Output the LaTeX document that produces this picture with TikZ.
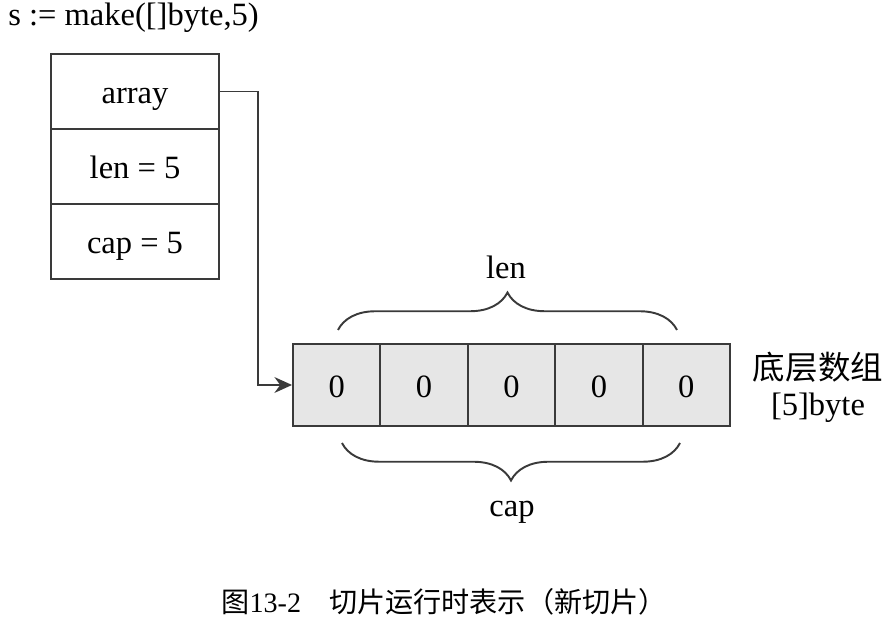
\documentclass[tikz,border=0pt]{standalone}
\usepackage{fontspec}
\setmainfont{Liberation Serif}
\newfontfamily\cjk{Noto Sans CJK SC}
\usetikzlibrary{arrows.meta,decorations.pathreplacing}
\definecolor{linegray}{HTML}{3A3A3A}
\definecolor{cellgray}{HTML}{E6E6E6}
\tikzset{field/.style={draw=linegray, line width=1.1pt, minimum width=3.36cm, minimum height=1.5cm, inner sep=0pt, text height=17pt, text depth=3pt, font=\fontsize{18.5}{20}\selectfont},
  cell/.style={draw=linegray, fill=cellgray, line width=1.1pt, minimum width=1.748cm, minimum height=1.64cm, inner sep=0pt, text height=17pt, text depth=3pt, font=\fontsize{18.5}{20}\selectfont},
  txt/.style={draw=none, fill=none, inner sep=0pt, font=\fontsize{18.5}{20}\selectfont},
  bracket/.style={draw=linegray, line width=1.1pt, decorate, decoration={brace, amplitude=0.75cm}}}

\begin{document}
\begin{tikzpicture}
  \useasboundingbox (0cm, 0cm) rectangle (17.74cm, 12.5cm);

  \node (decl) [txt, anchor=west] at (0.16cm, 12.14cm) {s := make([]byte,5)};

  % slice header
  \node (arr) [field] at (2.7cm, 10.67cm) {array};
  \node (len) [field] at (2.7cm, 9.17cm) {len = 5};
  \node (cap) [field] at (2.7cm, 7.67cm) {cap = 5};

  % underlying array
  \node (c1) [cell] at (6.734cm, 4.8cm) {0};
  \node (c2) [cell] at (8.482cm, 4.8cm) {0};
  \node (c3) [cell] at (10.23cm, 4.8cm) {0};
  \node (c4) [cell] at (11.978cm, 4.8cm) {0};
  \node (c5) [cell] at (13.726cm, 4.8cm) {0};

  \node (under) [txt, font=\fontsize{18.5}{20}\selectfont\cjk] at (16.36cm, 5.16cm) {底层数组};
  \node (type) [txt] at (16.36cm, 4.34cm) {[5]byte};

  \coordinate (turn) at (5.16cm, 10.66cm);
  \draw [linegray, line width=1.1pt, -{Stealth[length=10pt, width=9pt]}] (arr.east) -| (turn |- c1.west) -- (c1.west);

  % braces
  \coordinate (lenl) at (6.76cm, 5.9cm);
  \coordinate (lenr) at (13.54cm, 5.9cm);
  \coordinate (capl) at (6.84cm, 3.64cm);
  \coordinate (capr) at (13.6cm, 3.64cm);
  \draw [bracket] (lenl) -- (lenr);
  \draw [bracket] (capr) -- (capl);
  \node (lenlbl) [txt] at (10.12cm, 7.16cm) {len};
  \node (caplbl) [txt] at (10.24cm, 2.26cm) {cap};

  \node (caption) [txt, font=\fontsize{16}{18}\selectfont] at (8.88cm, 0.46cm) {{\cjk 图}13-2\quad{\cjk 切片运行时表示（新切片）}};
\end{tikzpicture}
\end{document}
